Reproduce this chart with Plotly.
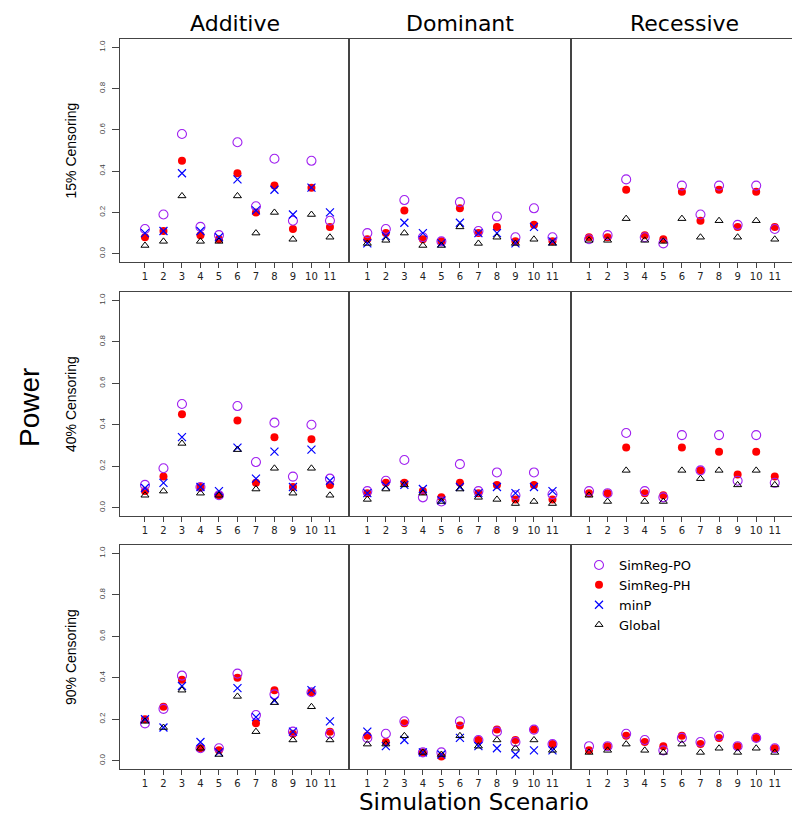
import plotly.graph_objects as go
from plotly.subplots import make_subplots

# simulation scenarios 1..11
scenarios = list(range(1, 12))
models = ["Additive", "Dominant", "Recessive"]
censoring = ["15% Censoring", "40% Censoring", "90% Censoring"]

# 15% censoring
add15_po = [0.12, 0.19, 0.58, 0.13, 0.09, 0.54, 0.23, 0.46, 0.16, 0.45, 0.16]
add15_ph = [0.08, 0.11, 0.45, 0.09, 0.07, 0.39, 0.20, 0.33, 0.12, 0.32, 0.13]
add15_minp = [0.10, 0.11, 0.39, 0.11, 0.08, 0.36, 0.21, 0.31, 0.19, 0.32, 0.20]
add15_glob = [0.04, 0.06, 0.28, 0.06, 0.06, 0.28, 0.10, 0.20, 0.07, 0.19, 0.08]

dom15_po = [0.10, 0.12, 0.26, 0.08, 0.06, 0.25, 0.11, 0.18, 0.08, 0.22, 0.08]
dom15_ph = [0.07, 0.10, 0.21, 0.07, 0.06, 0.22, 0.10, 0.13, 0.06, 0.14, 0.06]
dom15_minp = [0.05, 0.085, 0.15, 0.10, 0.05, 0.15, 0.10, 0.10, 0.05, 0.13, 0.06]
dom15_glob = [0.05, 0.065, 0.10, 0.04, 0.04, 0.13, 0.05, 0.08, 0.05, 0.07, 0.05]

rec15_po = [0.07, 0.09, 0.36, 0.08, 0.05, 0.33, 0.19, 0.33, 0.14, 0.33, 0.12]
rec15_ph = [0.08, 0.08, 0.31, 0.09, 0.07, 0.30, 0.16, 0.31, 0.13, 0.30, 0.13]
rec15_glob = [0.065, 0.065, 0.17, 0.065, 0.06, 0.17, 0.08, 0.16, 0.08, 0.16, 0.07]

# 40% censoring
add40_po = [0.11, 0.19, 0.50, 0.10, 0.06, 0.49, 0.22, 0.41, 0.15, 0.40, 0.14]
add40_ph = [0.08, 0.15, 0.45, 0.10, 0.06, 0.42, 0.12, 0.34, 0.10, 0.33, 0.11]
add40_minp = [0.095, 0.12, 0.34, 0.10, 0.08, 0.29, 0.14, 0.27, 0.10, 0.28, 0.13]
add40_glob = [0.06, 0.08, 0.31, 0.07, 0.06, 0.28, 0.09, 0.19, 0.07, 0.19, 0.06]

dom40_po = [0.08, 0.13, 0.23, 0.05, 0.03, 0.21, 0.08, 0.17, 0.06, 0.17, 0.065]
dom40_ph = [0.07, 0.12, 0.12, 0.08, 0.05, 0.12, 0.07, 0.11, 0.04, 0.11, 0.04]
dom40_minp = [0.07, 0.105, 0.11, 0.09, 0.035, 0.10, 0.07, 0.10, 0.07, 0.10, 0.08]
dom40_glob = [0.04, 0.09, 0.11, 0.07, 0.03, 0.09, 0.05, 0.04, 0.02, 0.03, 0.02]

rec40_po = [0.08, 0.07, 0.36, 0.08, 0.05, 0.35, 0.18, 0.35, 0.13, 0.35, 0.12]
rec40_ph = [0.07, 0.07, 0.29, 0.07, 0.06, 0.29, 0.18, 0.27, 0.16, 0.27, 0.15]
rec40_glob = [0.06, 0.03, 0.18, 0.03, 0.03, 0.18, 0.14, 0.18, 0.11, 0.18, 0.11]

# 90% censoring
add90_po = [0.18, 0.25, 0.41, 0.06, 0.06, 0.42, 0.22, 0.32, 0.14, 0.33, 0.13]
add90_ph = [0.20, 0.26, 0.39, 0.06, 0.05, 0.40, 0.18, 0.34, 0.13, 0.33, 0.14]
add90_minp = [0.20, 0.16, 0.36, 0.09, 0.04, 0.35, 0.21, 0.29, 0.14, 0.34, 0.19]
add90_glob = [0.19, 0.16, 0.34, 0.06, 0.03, 0.31, 0.14, 0.28, 0.10, 0.26, 0.10]

dom90_po = [0.11, 0.13, 0.19, 0.04, 0.04, 0.19, 0.10, 0.14, 0.09, 0.15, 0.08]
dom90_ph = [0.12, 0.09, 0.18, 0.04, 0.02, 0.17, 0.10, 0.15, 0.10, 0.15, 0.08]
dom90_minp = [0.14, 0.07, 0.10, 0.04, 0.03, 0.11, 0.07, 0.06, 0.03, 0.05, 0.05]
dom90_glob = [0.08, 0.08, 0.12, 0.04, 0.03, 0.12, 0.07, 0.10, 0.06, 0.10, 0.05]

rec90_po = [0.07, 0.07, 0.13, 0.10, 0.05, 0.11, 0.09, 0.12, 0.07, 0.11, 0.06]
rec90_ph = [0.05, 0.07, 0.12, 0.09, 0.07, 0.12, 0.08, 0.11, 0.07, 0.11, 0.06]
rec90_glob = [0.04, 0.05, 0.08, 0.05, 0.04, 0.08, 0.04, 0.06, 0.04, 0.06, 0.04]

# (po, ph, minp, global) per panel; minP not shown for the recessive model
panels = {
    (1, 1): (add15_po, add15_ph, add15_minp, add15_glob),
    (1, 2): (dom15_po, dom15_ph, dom15_minp, dom15_glob),
    (1, 3): (rec15_po, rec15_ph, None, rec15_glob),
    (2, 1): (add40_po, add40_ph, add40_minp, add40_glob),
    (2, 2): (dom40_po, dom40_ph, dom40_minp, dom40_glob),
    (2, 3): (rec40_po, rec40_ph, None, rec40_glob),
    (3, 1): (add90_po, add90_ph, add90_minp, add90_glob),
    (3, 2): (dom90_po, dom90_ph, dom90_minp, dom90_glob),
    (3, 3): (rec90_po, rec90_ph, None, rec90_glob),
}

W, H = 800, 816
col_px = [(112, 341), (341, 563), (563, 790)]
row_px = [(31, 254), (284, 508), (537, 761)]
x_ranges = [[-0.35, 12.03], [0.01, 12.0], [0.03, 12.25]]

FONT = "Liberation Sans, Arial, sans-serif"
WIDE = "DejaVu Sans, Liberation Sans, sans-serif"
FRAME = "#444444"

fig = make_subplots(rows=3, cols=3)

styles = {
    "po": dict(name="SimReg-PO", rank=1,
               marker=dict(symbol="circle-open", size=9, color="#A020F0",
                           line=dict(width=1.1))),
    "ph": dict(name="SimReg-PH", rank=2,
               marker=dict(symbol="circle", size=8, color="#FF0000",
                           line=dict(width=0))),
    "minp": dict(name="minP", rank=3,
                 marker=dict(symbol="x-thin-open", size=8, color="#0000FF",
                             line=dict(width=1.2, color="#0000FF"))),
    "glob": dict(name="Global", rank=4,
                 marker=dict(symbol="triangle-up-open", size=7, color="black",
                             line=dict(width=1))),
}

for (r, c), (po, ph, minp, glob) in panels.items():
    first = (r, c) == (1, 1)
    # red dots drawn under the open circles
    for key, vals in (("ph", ph), ("po", po), ("minp", minp), ("glob", glob)):
        if vals is None:
            continue
        st = styles[key]
        fig.add_trace(
            go.Scatter(x=scenarios, y=vals, mode="markers",
                       name=st["name"], legendrank=st["rank"],
                       marker=st["marker"], showlegend=first,
                       hoverinfo="skip"),
            row=r, col=c)

for r in range(1, 4):
    for c in range(1, 4):
        x0, x1 = col_px[c - 1]
        y0, y1 = row_px[r - 1]
        fig.update_xaxes(domain=[x0 / W, x1 / W], range=x_ranges[c - 1],
                         tickvals=scenarios, ticks="outside", ticklen=5,
                         tickcolor=FRAME, showgrid=False, zeroline=False,
                         showline=True, linecolor=FRAME, linewidth=1,
                         mirror=True, tickfont=dict(family=WIDE, size=10,
                                                    color="#222"),
                         row=r, col=c)
        fig.update_yaxes(domain=[1 - y1 / H, 1 - y0 / H], range=[-0.04, 1.04],
                         tickvals=[0, 0.2, 0.4, 0.6, 0.8, 1.0],
                         ticktext=["0.0", "0.2", "0.4", "0.6", "0.8", "1.0"],
                         ticks="outside" if c == 1 else "", ticklen=7,
                         tickcolor=FRAME, showticklabels=(c == 1),
                         tickangle=-90, ticklabelstandoff=4,
                         tickfont=dict(family=FONT, size=8, color="#444"),
                         showgrid=False, zeroline=False, showline=True,
                         linecolor=FRAME, linewidth=1, mirror=True,
                         row=r, col=c)

annotations = []
for c, name in enumerate(models):
    x0, x1 = col_px[c]
    annotations.append(dict(text=name, x=(x0 + x1) / 2 / W, y=1 - 1 / H,
                            xref="paper", yref="paper", showarrow=False,
                            xanchor="center", yanchor="top",
                            font=dict(family=WIDE, size=22, color="black")))
for r, name in enumerate(censoring):
    y0, y1 = row_px[r]
    annotations.append(dict(text=name, x=63 / W, y=1 - (y0 + y1) / 2 / H,
                            xref="paper", yref="paper", showarrow=False,
                            textangle=-90, xanchor="center", yanchor="middle",
                            font=dict(family=FONT, size=14, color="black")))
annotations.append(dict(text="Power", x=21 / W, y=1 - 400 / H,
                        xref="paper", yref="paper", showarrow=False,
                        textangle=-90, xanchor="center", yanchor="middle",
                        font=dict(family=FONT, size=28, color="black")))
annotations.append(dict(text="Simulation Scenario", x=466 / W, y=1 - 809 / H,
                        xref="paper", yref="paper", showarrow=False,
                        xanchor="center", yanchor="bottom",
                        font=dict(family=WIDE, size=23, color="black")))

fig.update_layout(
    width=W, height=H,
    margin=dict(l=0, r=0, t=0, b=0),
    paper_bgcolor="white", plot_bgcolor="white",
    font=dict(family=FONT, color="black"),
    annotations=annotations,
    legend=dict(x=571 / W, y=1 - 542 / H, xanchor="left", yanchor="top",
                bgcolor="rgba(0,0,0,0)", itemwidth=30,
                font=dict(family=WIDE, size=13, color="black"),
                traceorder="normal"),
)

fig.write_html("out.html")
